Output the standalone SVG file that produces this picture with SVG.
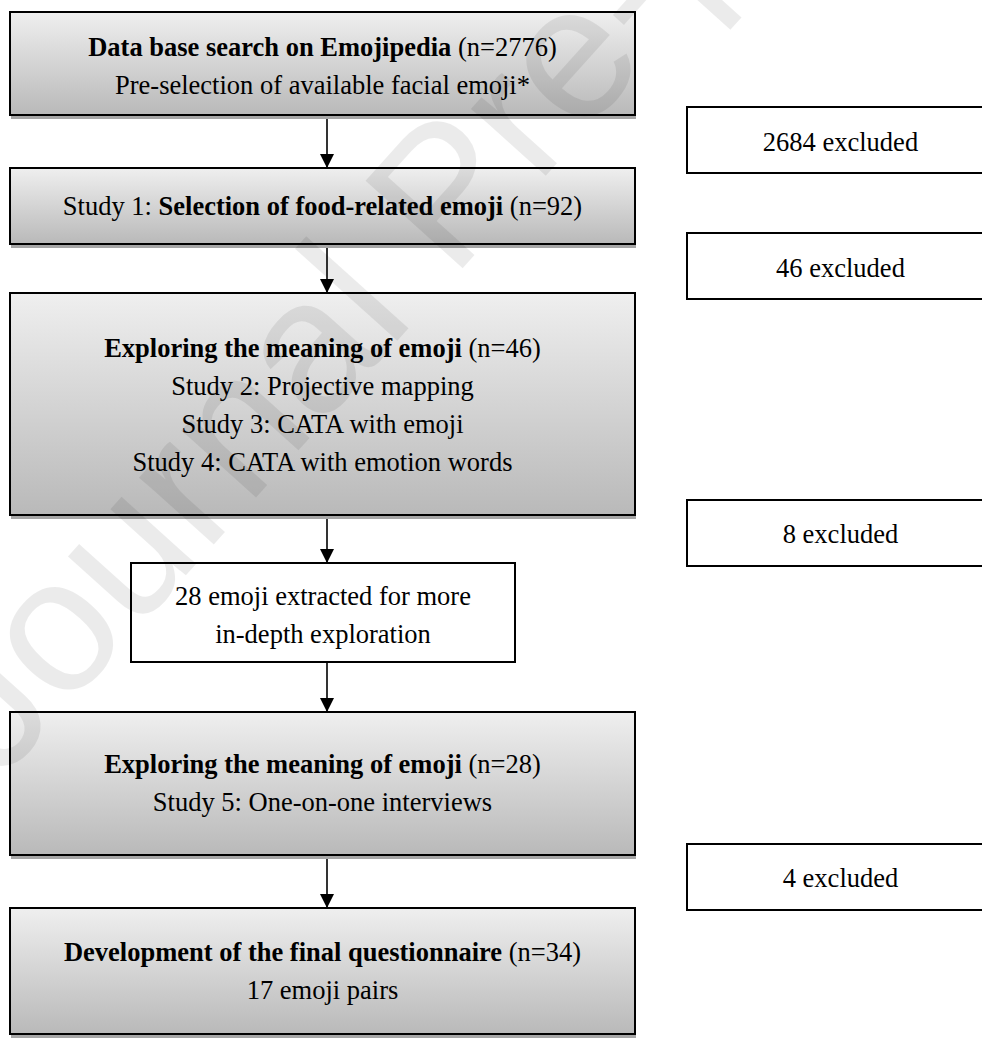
<svg xmlns="http://www.w3.org/2000/svg" width="982" height="1039" viewBox="0 0 982 1039">
<defs>
<linearGradient id="g" x1="0" y1="0" x2="0" y2="1">
<stop offset="0" stop-color="#efefef"/>
<stop offset="1" stop-color="#b9b9b9"/>
</linearGradient>
<marker id="ah" markerWidth="14" markerHeight="14" refX="13" refY="7" orient="auto" markerUnits="userSpaceOnUse" viewBox="0 0 14 14">
<path d="M0,0 L14,7 L0,14 Z" fill="#000"/>
</marker>
</defs>
<style>
text{font-family:"Liberation Serif","Times New Roman",serif;font-size:26.5px;fill:#000;text-anchor:middle}
.b{font-weight:bold}
.gbox{fill:url(#g);stroke:#000;stroke-width:2}
.shadow{fill:#a6a6a6}
.wbox{fill:#fff;stroke:#000;stroke-width:2}
.conn{stroke:#000;stroke-width:1.6;fill:none}
.wm{font-family:"Liberation Sans",Arial,sans-serif;font-size:190px;fill:#000;fill-opacity:0.08;text-anchor:start}
</style>
<rect width="982" height="1039" fill="#fff"/>

<g id="n1">
<rect class="shadow" x="11" y="16" width="625" height="103"/>
<rect class="gbox" x="10" y="12" width="625" height="103"/>
<text x="322.5" y="56"><tspan class="b">Data base search on Emojipedia</tspan> (n=2776)</text>
<text x="322.5" y="94">Pre-selection of available facial emoji*</text>
</g>
<g id="n2">
<rect class="shadow" x="11" y="172" width="625" height="76"/>
<rect class="gbox" x="10" y="168" width="625" height="76"/>
<text x="322.5" y="215">Study 1: <tspan class="b">Selection of food-related emoji</tspan> (n=92)</text>
</g>
<g id="n3">
<rect class="shadow" x="11" y="297" width="625" height="222"/>
<rect class="gbox" x="10" y="293" width="625" height="222"/>
<text x="322.5" y="357"><tspan class="b">Exploring the meaning of emoji</tspan> (n=46)</text>
<text x="322.5" y="395">Study 2: Projective mapping</text>
<text x="322.5" y="433">Study 3: CATA with emoji</text>
<text x="322.5" y="471">Study 4: CATA with emotion words</text>
</g>
<g id="n4">
<rect class="wbox" x="131" y="563" width="384" height="99"/>
<text x="323" y="605">28 emoji extracted for more</text>
<text x="323" y="643">in-depth exploration</text>
</g>
<g id="n5">
<rect class="shadow" x="11" y="716" width="625" height="143"/>
<rect class="gbox" x="10" y="712" width="625" height="143"/>
<text x="322.5" y="773"><tspan class="b">Exploring the meaning of emoji</tspan> (n=28)</text>
<text x="322.5" y="811">Study 5: One-on-one interviews</text>
</g>
<g id="n6">
<rect class="shadow" x="11" y="912" width="625" height="126"/>
<rect class="gbox" x="10" y="908" width="625" height="126"/>
<text x="322.5" y="961"><tspan class="b">Development of the final questionnaire</tspan> (n=34)</text>
<text x="322.5" y="999">17 emoji pairs</text>
</g>

<g id="x1">
<rect class="wbox" x="687" y="107" width="310" height="66"/>
<text x="840.5" y="151">2684 excluded</text>
</g>
<g id="x2">
<rect class="wbox" x="687" y="233" width="310" height="66"/>
<text x="840.5" y="277">46 excluded</text>
</g>
<g id="x3">
<rect class="wbox" x="687" y="500" width="310" height="66"/>
<text x="840.5" y="543">8 excluded</text>
</g>
<g id="x4">
<rect class="wbox" x="687" y="844" width="310" height="66"/>
<text x="840.5" y="887">4 excluded</text>
</g>

<g id="connectors">
<line class="conn" x1="327" y1="119" x2="327" y2="167" marker-end="url(#ah)"/>
<line class="conn" x1="327" y1="248" x2="327" y2="292" marker-end="url(#ah)"/>
<line class="conn" x1="327" y1="519" x2="327" y2="562" marker-end="url(#ah)"/>
<line class="conn" x1="327" y1="663" x2="327" y2="711" marker-end="url(#ah)"/>
<line class="conn" x1="327" y1="859" x2="327" y2="907" marker-end="url(#ah)"/>
</g>

<text class="wm" transform="translate(0,782) rotate(-48)">Journal Pre-proof</text>
</svg>
